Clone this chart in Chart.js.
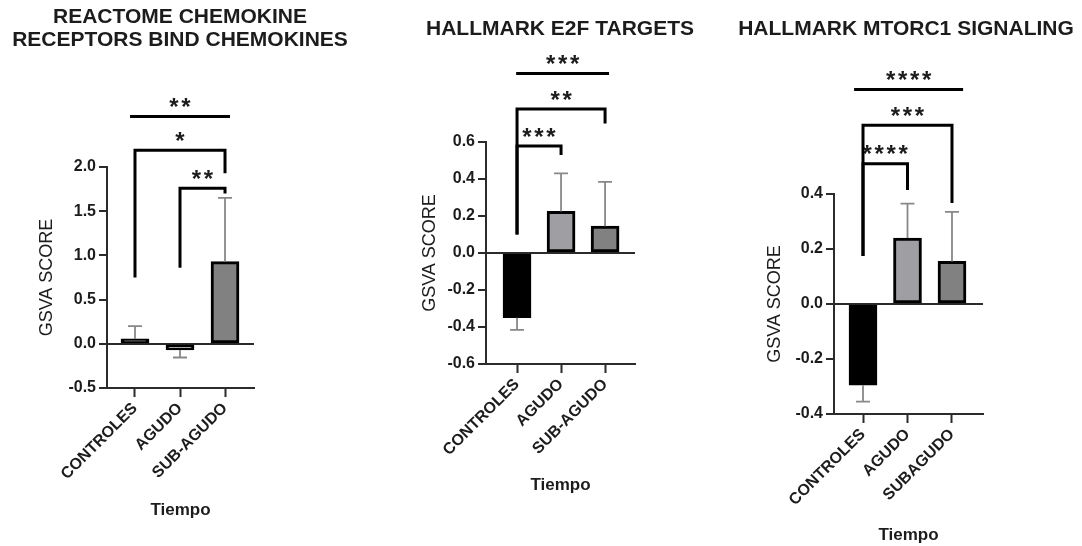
<!DOCTYPE html>
<html lang="es">
<head>
<meta charset="UTF-8">
<title>GSVA score</title>
<script src="https://cdn.jsdelivr.net/npm/chart.js"></script>
<style>
  body { margin: 0; background: #fff; width: 1082px; height: 546px; position: relative; overflow: hidden; }
  canvas { position: absolute; top: 0; }
</style>
</head>
<body>
<canvas id="chemo" width="360" height="546" style="left:0"></canvas>
<canvas id="e2f" width="360" height="546" style="left:360px"></canvas>
<canvas id="mtor" width="362" height="546" style="left:720px"></canvas>
<script>
    // categorias
    const catsA = ['CONTROLES', 'AGUDO', 'SUB-AGUDO'];
    const catsB = ['CONTROLES', 'AGUDO', 'SUBAGUDO'];

    // REACTOME CHEMOKINE RECEPTORS BIND CHEMOKINES
    const chemoMeans = [0.055, -0.07, 0.93];
    const chemoSD = [0.145, 0.085, 0.72];
    const chemoTicks = [-0.5, 0, 0.5, 1.0, 1.5, 2.0];
    const chemoSig = [
        { a: 1, b: 2, y: 1.76, ya: 0.86, yb: 1.70, stars: 2 },
        { a: 0, b: 2, y: 2.19, ya: 0.75, yb: 1.93, stars: 1 },
        { a: -0.11, b: 2.11, y: 2.57, stars: 2 }
    ];

    // HALLMARK E2F TARGETS
    const e2fMeans = [-0.35, 0.225, 0.145];
    const e2fSD = [0.065, 0.205, 0.24];
    const e2fTicks = [-0.6, -0.4, -0.2, 0, 0.2, 0.4, 0.6];
    const e2fSig = [
        { a: 0, b: 1, y: 0.578, ya: 0.10, yb: 0.53, stars: 3 },
        { a: 0, b: 2, y: 0.778, ya: 0.10, yb: 0.70, stars: 2 },
        { a: -0.02, b: 2.09, y: 0.97, stars: 3 }
    ];

    // HALLMARK MTORC1 SIGNALING
    const mtorMeans = [-0.295, 0.24, 0.155];
    const mtorSD = [0.06, 0.125, 0.18];
    const mtorTicks = [-0.4, -0.2, 0, 0.2, 0.4];
    const mtorSig = [
        { a: 0, b: 1, y: 0.51, ya: 0.175, yb: 0.415, stars: 4 },
        { a: 0, b: 2, y: 0.65, ya: 0.175, yb: 0.367, stars: 3 },
        { a: -0.2, b: 2.25, y: 0.78, stars: 4 }
    ];

    const barColors = ['#000000', '#9f9fa3', '#818181'];
    const FONT = '"Liberation Sans", Arial, sans-serif';
    const INK = '#1c1c1c';
    const AXIS = '#2b2b2b';

    function drawExtras(chart, p) {
        const ctx = chart.ctx;
        const xs = chart.scales.x, ys = chart.scales.y;
        ctx.save();

        // barras de error (solo hacia fuera)
        ctx.strokeStyle = '#888';
        ctx.lineWidth = 1.8;
        p.means.forEach((m, i) => {
            const x = xs.getPixelForValue(i);
            const y0 = ys.getPixelForValue(m);
            const y1 = ys.getPixelForValue(m + (m >= 0 ? 1 : -1) * p.sd[i]);
            ctx.beginPath();
            ctx.moveTo(x, y0);
            ctx.lineTo(x, y1);
            ctx.moveTo(x - 7, y1);
            ctx.lineTo(x + 7, y1);
            ctx.stroke();
        });

        // corchetes de significancia
        ctx.strokeStyle = '#000';
        ctx.lineWidth = 3;
        ctx.lineJoin = 'miter';
        ctx.fillStyle = INK;
        ctx.font = 'bold 24px ' + FONT;
        ctx.textAlign = 'center';
        ctx.textBaseline = 'alphabetic';
        p.sig.forEach(s => {
            const xa = xs.getPixelForValue(s.a), xb = xs.getPixelForValue(s.b);
            const y = ys.getPixelForValue(s.y);
            ctx.beginPath();
            if (s.ya !== undefined) {
                ctx.moveTo(xa, ys.getPixelForValue(s.ya));
                ctx.lineTo(xa, y);
                ctx.lineTo(xb, y);
                ctx.lineTo(xb, ys.getPixelForValue(s.yb));
            } else {
                ctx.moveTo(xa, y);
                ctx.lineTo(xb, y);
            }
            ctx.stroke();
            const cx = (xa + xb) / 2;
            for (let k = 0; k < s.stars; k++) {
                ctx.fillText('*', cx + (k - (s.stars - 1) / 2) * 12, y - 1.5);
            }
        });

        // titulo
        ctx.font = 'bold 21px ' + FONT;
        ctx.textBaseline = 'middle';
        p.title.forEach((t, i) => ctx.fillText(t, p.titleX, p.titleY[i]));
        ctx.restore();
    }

    function makePanel(id, p) {
        const H = 546;
        const yTitleSize = 18, xTitleSize = 17;
        new Chart(document.getElementById(id), {
            type: 'bar',
            data: {
                datasets: [{
                    data: p.means.map((v, i) => ({ x: i, y: v })),
                    backgroundColor: barColors,
                    borderColor: '#000',
                    borderWidth: 3,
                    borderSkipped: false,
                    barThickness: 28
                }]
            },
            options: {
                responsive: false,
                animation: false,
                layout: { padding: { left: 0, bottom: 0, top: p.area.top, right: p.width - p.area.right } },
                plugins: { legend: { display: false }, tooltip: { enabled: false } },
                scales: {
                    x: {
                        type: 'linear',
                        min: p.xMin,
                        max: p.xMax,
                        offset: false,
                        afterBuildTicks: s => { s.ticks = p.cats.map((c, i) => ({ value: i })); },
                        afterFit: s => { s.height = H - p.area.bottom; },
                        grid: { offset: false, color: 'rgba(0,0,0,0)', tickLength: 9, tickColor: AXIS, tickWidth: 2 },
                        border: { display: true, color: AXIS, width: 2 },
                        ticks: {
                            autoSkip: false, minRotation: 45, maxRotation: 45, padding: 2,
                            color: INK, font: { family: FONT, size: 16, weight: 'bold' },
                            callback: v => p.cats[v]
                        },
                        title: {
                            display: true, text: 'Tiempo', color: INK,
                            font: { family: FONT, size: xTitleSize, weight: 'bold' },
                            padding: { top: 0, bottom: H - p.xTitleY - xTitleSize * 0.6 }
                        }
                    },
                    y: {
                        min: p.yTicks[0],
                        max: p.yTicks[p.yTicks.length - 1],
                        afterBuildTicks: s => { s.ticks = p.yTicks.map(v => ({ value: v })); },
                        afterFit: s => { s.width = p.area.left; },
                        grid: {
                            color: c => Math.abs(c.tick.value) < 1e-9 ? AXIS : 'rgba(0,0,0,0)',
                            lineWidth: 2, tickLength: 8, tickColor: AXIS, tickWidth: 2
                        },
                        border: { display: true, color: AXIS, width: 2 },
                        ticks: {
                            padding: 3, color: INK, font: { family: FONT, size: 16, weight: 'bold' },
                            callback: v => v.toFixed(1)
                        },
                        title: {
                            display: true, text: 'GSVA SCORE', color: INK,
                            font: { family: FONT, size: yTitleSize },
                            padding: { top: p.yTitleX - yTitleSize * 0.6, bottom: 0 }
                        }
                    }
                }
            },
            plugins: [{ id: 'extras', afterDatasetsDraw: chart => drawExtras(chart, p) }]
        });
    }

    makePanel('chemo', {
        cats: catsA, means: chemoMeans, sd: chemoSD, yTicks: chemoTicks, sig: chemoSig,
        width: 360, area: { left: 107, right: 254, top: 167, bottom: 388 },
        xMin: -0.622, xMax: 2.644, yTitleX: 47.5, xTitleY: 510,
        title: ['REACTOME CHEMOKINE', 'RECEPTORS BIND CHEMOKINES'], titleX: 180, titleY: [17.5, 40.5]
    });
    makePanel('e2f', {
        cats: catsA, means: e2fMeans, sd: e2fSD, yTicks: e2fTicks, sig: e2fSig,
        width: 360, area: { left: 126, right: 275, top: 142, bottom: 364 },
        xMin: -0.705, xMax: 2.68, yTitleX: 70, xTitleY: 485,
        title: ['HALLMARK E2F TARGETS'], titleX: 200, titleY: [29.5]
    });
    makePanel('mtor', {
        cats: catsB, means: mtorMeans, sd: mtorSD, yTicks: mtorTicks, sig: mtorSig,
        width: 362, area: { left: 114, right: 263, top: 194, bottom: 414 },
        xMin: -0.652, xMax: 2.697, yTitleX: 55, xTitleY: 535,
        title: ['HALLMARK MTORC1 SIGNALING'], titleX: 186, titleY: [29.5]
    });
</script>
</body>
</html>
